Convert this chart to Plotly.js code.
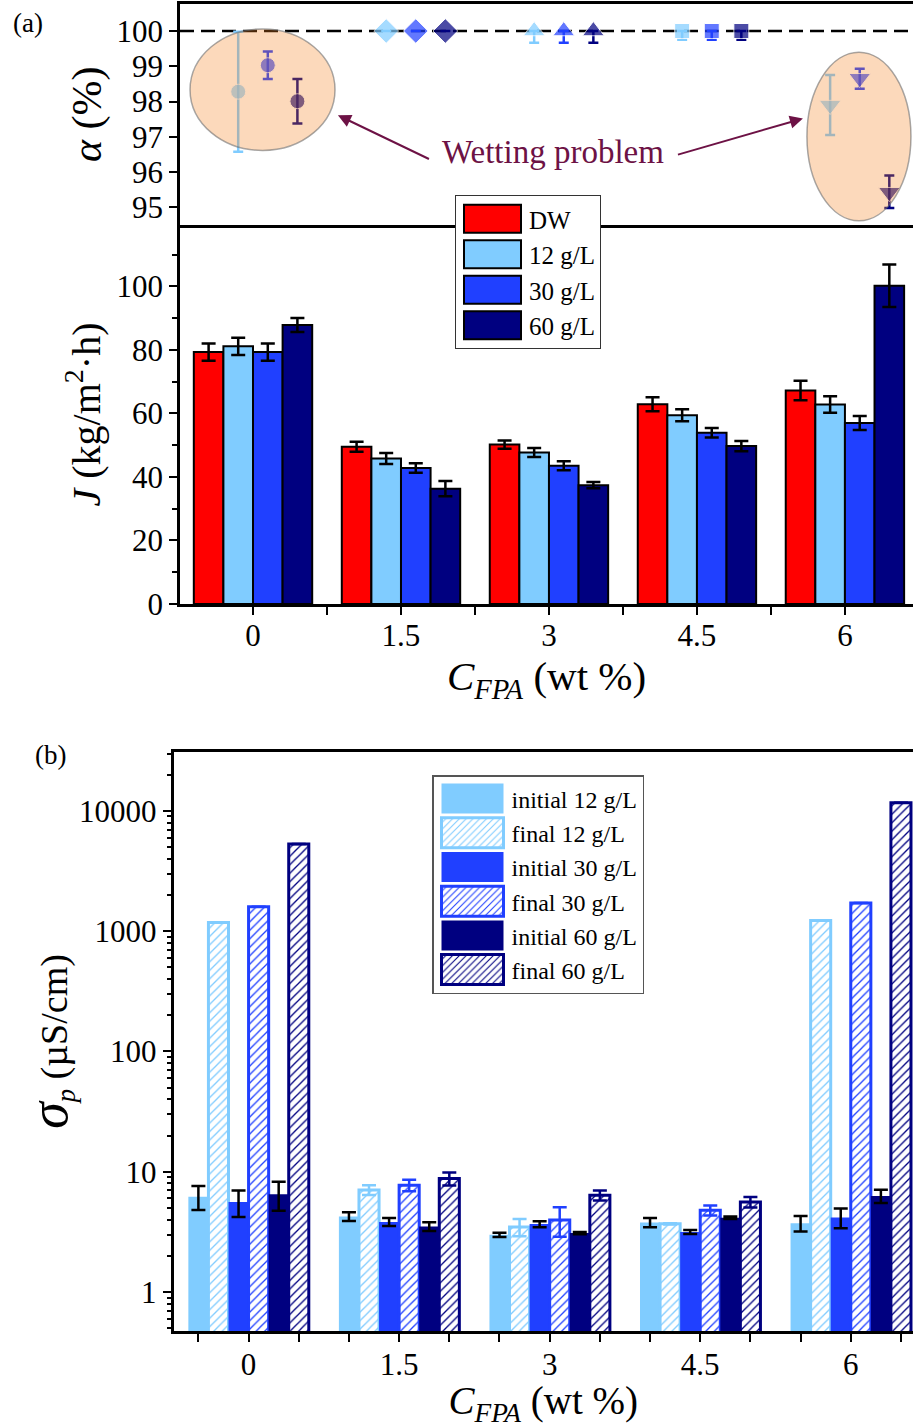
<!DOCTYPE html>
<html><head><meta charset="utf-8">
<script src="https://cdn.plot.ly/plotly-3.0.1.min.js"></script>
<style>html,body{margin:0;padding:0;background:#fff}#chart{width:913px;height:1428px}</style>
</head><body><div id="chart"></div>
<script>
// ---------- data ----------
const categories = [0, 1.5, 3, 4.5, 6];
const xTickLabels = ['0', '1.5', '3', '4.5', '6'];

// (a) permeate flux J (kg/m2 h)
const fluxNames = ['DW', '12 g/L', '30 g/L', '60 g/L'];
const fluxDW = [79.3, 49.5, 50.2, 62.9, 67.2];
const fluxDWErr = [2.7, 1.6, 1.3, 2.2, 3.1];
const flux12 = [81.1, 45.8, 47.7, 59.4, 62.8];
const flux12Err = [2.7, 1.7, 1.4, 1.9, 2.6];
const flux30 = [79.3, 42.8, 43.5, 53.9, 57.0];
const flux30Err = [2.7, 1.5, 1.4, 1.5, 2.2];
const flux60 = [87.8, 36.3, 37.4, 49.7, 100.2];
const flux60Err = [2.2, 2.4, 1.0, 1.6, 6.7];

// (a) salt rejection alpha (%)
const alpha12 = [98.28, 100, 100, 100, 97.9];
const alpha12ErrPlus = [1.7, 0, 0, 0, 0.85];
const alpha12ErrMinus = [1.7, 0, 0.33, 0.25, 0.85];
const alpha30 = [99.03, 100, 100, 100, 98.66];
const alpha30ErrPlus = [0.39, 0, 0, 0, 0.27];
const alpha30ErrMinus = [0.39, 0, 0.33, 0.25, 0.3];
const alpha60 = [98.01, 100, 100, 100, 95.43];
const alpha60ErrPlus = [0.63, 0, 0, 0, 0.47];
const alpha60ErrMinus = [0.63, 0, 0.33, 0.25, 0.45];

// (b) permeate conductivity sigma_p (uS/cm)
const condNames = ['initial 12 g/L', 'final 12 g/L', 'initial 30 g/L', 'final 30 g/L', 'initial 60 g/L', 'final 60 g/L'];
const initial12 = [6.2, 4.25, 2.99, 3.79, 3.74];
const initial12Err = [1.4, 0.35, 0.12, 0.33, 0.55];
const final12 = [1183, 7.06, 3.48, 3.69, 1230];
const final12Err = [0, 0.65, 0.57, 0.05, 0];
const initial30 = [5.6, 3.83, 3.67, 3.16, 4.17];
const initial30Err = [1.4, 0.29, 0.21, 0.12, 0.78];
const final30 = [1597, 7.73, 3.98, 4.79, 1714];
const final30Err = [0, 0.85, 1.1, 0.46, 0];
const initial60 = [6.5, 3.51, 3.09, 4.14, 6.3];
const initial60Err = [1.75, 0.29, 0.07, 0.1, 0.8];
const final60 = [5300, 8.78, 6.38, 5.61, 11720];
const final60Err = [0, 1.1, 0.62, 0.57, 0];
const logTickVals = [1, 10, 100, 1000, 10000];
const logTickText = ['1', '10', '100', '1000', '10000'];

// ---------- style ----------
const FONT = "'Liberation Serif', 'Times New Roman', serif";
const cRed = '#FF0000', cLight = '#80CCFF', cBlue = '#2040FF', cNavy = '#000080';
const W = 913, H = 1428;
const px = v => v / W;
const py = v => 1 - v / H;
const BARGAP = 0.2;
const groupSpacing = 1.5;
const barW4 = groupSpacing * (1 - BARGAP) / 4;
const off4 = i => (i - 1.5) * barW4;

const data = [];
const fluxSeries = [fluxDW, flux12, flux30, flux60];
const fluxErrs = [fluxDWErr, flux12Err, flux30Err, flux60Err];
const fluxColors = [cRed, cLight, cBlue, cNavy];
fluxSeries.forEach((ys, i) => {
  data.push({
    type: 'bar', x: categories, y: ys, name: fluxNames[i],
    xaxis: 'x', yaxis: 'y2', legend: 'legend',
    marker: {color: fluxColors[i], line: {color: '#000', width: 2}},
    error_y: {type: 'data', array: fluxErrs[i], visible: true, color: '#000', thickness: 2.5, width: 7}
  });
});

const alphaSeries = [alpha12, alpha30, alpha60];
const alphaPlus = [alpha12ErrPlus, alpha30ErrPlus, alpha60ErrPlus];
const alphaMinus = [alpha12ErrMinus, alpha30ErrMinus, alpha60ErrMinus];
const alphaColors = [cLight, cBlue, cNavy];
const symbols = ['circle', 'diamond', 'triangle-up', 'square', 'triangle-down'];
const symSizes = [15, 19, 19, 15, 19];
alphaSeries.forEach((ys, k) => {
  data.push({
    type: 'scatter', mode: 'markers', x: categories.map(c => c + off4(k + 1)), y: ys,
    xaxis: 'x2', yaxis: 'y', showlegend: false,
    marker: {color: alphaColors[k], symbol: symbols, size: symSizes},
    error_y: {type: 'data', symmetric: false, array: alphaPlus[k], arrayminus: alphaMinus[k], visible: true,
              color: alphaColors[k], thickness: 2.5, width: 5}
  });
});

const condSeries = [initial12, final12, initial30, final30, initial60, final60];
const condErrs = [initial12Err, final12Err, initial30Err, final30Err, initial60Err, final60Err];
const condColors = [cLight, cLight, cBlue, cBlue, cNavy, cNavy];
condSeries.forEach((ys, i) => {
  const isFinal = i % 2 === 1;
  const c = condColors[i];
  data.push({
    type: 'bar', x: categories, y: ys, name: condNames[i],
    xaxis: 'x3', yaxis: 'y3', legend: 'legend2',
    marker: isFinal
      ? {color: '#fff', line: {color: c, width: 3},
         pattern: {shape: '/', fgcolor: c, bgcolor: '#fff', size: 6, solidity: 0.22, fillmode: 'replace'}}
      : {color: c, line: {color: c, width: 0}},
    error_y: {type: 'data', array: condErrs[i], visible: true, color: isFinal ? c : '#000', thickness: 2.5, width: 7}
  });
});

const minorLog = [];
[0.1, 1, 10, 100, 1000, 10000].forEach(d => { for (let m = 2; m <= 9; m++) minorLog.push(d * m); });

const tickFont = {family: FONT, size: 31, color: '#000'};
const axBase = {showgrid: false, zeroline: false, showline: true, linecolor: '#000', linewidth: 2.5,
                ticks: 'outside', tickcolor: '#000', tickwidth: 2, ticklen: 8, tickfont: tickFont};

const layout = {
  width: W, height: H, margin: {l: 0, r: 0, t: 0, b: 0},
  paper_bgcolor: '#fff', plot_bgcolor: '#fff',
  barmode: 'group', bargap: BARGAP, bargroupgap: 0,
  font: {family: FONT, color: '#000'},
  xaxis: Object.assign({}, axBase, {
    domain: [px(180), 1], anchor: 'y2', range: [-0.74, 6.69],
    tickmode: 'array', tickvals: categories, ticktext: xTickLabels, ticklabelstandoff: -6,
    minor: {tick0: 0, dtick: 0.75, ticks: 'outside', ticklen: 8, tickwidth: 2, tickcolor: '#000'},
    title: {text: '<i>C</i><sub><i>FPA</i></sub> (wt %)', font: {family: FONT, size: 41}, standoff: 0}
  }),
  xaxis2: Object.assign({}, axBase, {
    domain: [px(180), 1], anchor: 'y', matches: 'x', range: [-0.74, 6.69],
    ticks: '', showticklabels: false, mirror: true
  }),
  yaxis: Object.assign({}, axBase, {
    domain: [py(225), py(3.5)], anchor: 'x2', range: [94.5, 100.78],
    tick0: 95, dtick: 1,
    title: {text: '<i>α</i> (%)', font: {family: FONT, size: 42}, standoff: 2}
  }),
  yaxis4: Object.assign({}, axBase, {
    overlaying: 'y', side: 'right', anchor: 'x2', range: [94.5, 100.78],
    tick0: 95, dtick: 1, ticks: 'inside', ticklen: 6, showticklabels: false, showline: false
  }),
  yaxis2: Object.assign({}, axBase, {
    domain: [py(604), py(225)], anchor: 'x', range: [0, 119.3],
    tick0: 0, dtick: 20,
    minor: {tick0: 0, dtick: 10, ticks: 'outside', ticklen: 5, tickwidth: 2, tickcolor: '#000'},
    title: {text: '<i>J</i> (kg/m<sup>2</sup>·h)', font: {family: FONT, size: 40}, standoff: 4}
  }),
  xaxis3: Object.assign({}, axBase, {
    domain: [px(173.5), 1], anchor: 'y3', range: [-0.748, 6.62], mirror: true,
    tickmode: 'array', tickvals: categories, ticktext: xTickLabels, ticklabelstandoff: -4,
    minor: {tick0: 0, dtick: 0.5, ticks: 'outside', ticklen: 8, tickwidth: 2, tickcolor: '#000'},
    title: {text: '<i>C</i><sub><i>FPA</i></sub> (wt %)', font: {family: FONT, size: 39}, standoff: 2}
  }),
  yaxis3: Object.assign({}, axBase, {
    domain: [py(1331), py(752)], anchor: 'x3', type: 'log', range: [-0.324, 4.49],
    tickmode: 'array', tickvals: logTickVals, ticktext: logTickText,
    minor: {tickmode: 'array', tickvals: minorLog, ticks: 'outside', ticklen: 4, tickwidth: 1.5, tickcolor: '#000'},
    title: {text: '<span style="font-size:54px"><i>σ</i></span><sub><i>p</i></sub> (µS/cm)', font: {family: FONT, size: 38}, standoff: 0}
  }),
  legend: {x: px(455), y: py(195), xanchor: 'left', yanchor: 'top', bgcolor: '#fff',
           bordercolor: '#333', borderwidth: 1, font: {family: FONT, size: 25, color: '#000'},
           itemwidth: 63, tracegroupgap: 0},
  legend2: {x: px(432), y: py(775), xanchor: 'left', yanchor: 'top', bgcolor: '#fff',
            bordercolor: '#555', borderwidth: 1.5, font: {family: FONT, size: 24, color: '#000'},
            itemwidth: 68, tracegroupgap: 0},
  shapes: [
    {type: 'line', xref: 'x2 domain', yref: 'y', x0: 0, x1: 1, y0: 100, y1: 100,
     line: {color: '#000', width: 2.5, dash: '14px,7px'}, layer: 'below'},
    {type: 'circle', xref: 'x2', yref: 'y', x0: -0.638, x1: 0.831, y0: 96.614, y1: 100.057,
     fillcolor: 'rgba(245,130,30,0.3)', line: {color: 'rgba(110,110,110,0.6)', width: 1.5}, layer: 'above'},
    {type: 'circle', xref: 'x2', yref: 'y', x0: 5.615, x1: 6.669, y0: 94.62, y1: 99.40,
     fillcolor: 'rgba(245,130,30,0.3)', line: {color: 'rgba(110,110,110,0.6)', width: 1.5}, layer: 'above'}
  ],
  annotations: [
    {text: 'Wetting problem', xref: 'x2', yref: 'y', x: 3.04, y: 96.56, showarrow: false,
     font: {family: FONT, size: 33, color: '#6d1245'}},
    {text: ' ', xref: 'x2', yref: 'y', axref: 'x2', ayref: 'y', x: 0.861, y: 97.61, ax: 1.814, ay: 96.33,
     showarrow: true, arrowhead: 2, arrowsize: 1.3, arrowwidth: 2, arrowcolor: '#6d1245', standoff: 0, startstandoff: 0},
    {text: ' ', xref: 'x2', yref: 'y', axref: 'x2', ayref: 'y', x: 5.574, y: 97.52, ax: 4.277, ay: 96.47,
     showarrow: true, arrowhead: 2, arrowsize: 1.3, arrowwidth: 2, arrowcolor: '#6d1245', standoff: 0, startstandoff: 0},
    {text: '(a)', xref: 'paper', yref: 'paper', x: px(11), y: py(6), xanchor: 'left', yanchor: 'top',
     showarrow: false, font: {family: FONT, size: 27}},
    {text: '(b)', xref: 'paper', yref: 'paper', x: px(33), y: py(738), xanchor: 'left', yanchor: 'top',
     showarrow: false, font: {family: FONT, size: 27}}
  ]
};

const gd = document.getElementById('chart');
const legendBoxes = {legend: [57, 28], legend2: [62, 30]};
function enlargeLegends() {
  Object.keys(legendBoxes).forEach(cls => {
    const [w, h] = legendBoxes[cls];
    const g = gd.querySelector('g.' + cls);
    if (!g) return;
    g.querySelectorAll('.legendpoints path').forEach(p => {
      p.setAttribute('d', 'M' + (w / 2) + ',' + (h / 2) + 'H' + (-w / 2) + 'V' + (-h / 2) + 'H' + (w / 2) + 'Z');
    });
  });
}
Plotly.newPlot(gd, data, layout, {displayModeBar: false}).then(() => {
  enlargeLegends();
  gd.on('plotly_afterplot', enlargeLegends);
  setTimeout(enlargeLegends, 50);
  setTimeout(enlargeLegends, 300);
});
</script>
</body></html>
